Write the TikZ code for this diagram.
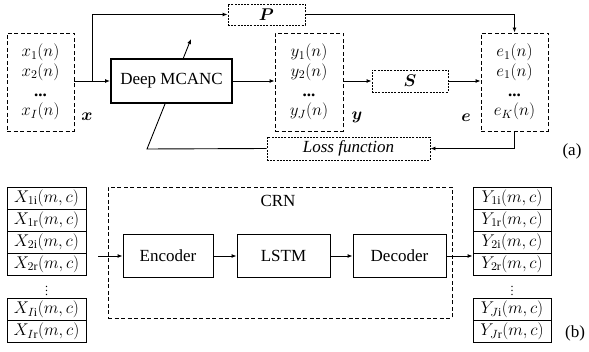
\RequirePackage{fix-cm}
\documentclass[tikz,border=0pt]{standalone}
\usepackage{amsmath,bm}
\usepackage{fontspec}
\setmainfont{Liberation Serif}
\usetikzlibrary{arrows.meta,backgrounds}
\begin{document}
\begin{tikzpicture}[x=1pt,y=-1pt,
  every node/.style={font=\fontsize{17}{19.7}\selectfont, inner sep=0pt},
  dbox/.style={draw, dash pattern=on 4pt off 2.5pt, line width=0.9pt, align=center},
  fbox/.style={draw, dash pattern=on 2pt off 1.2pt, line width=0.9pt},
  thickbox/.style={draw, line width=2pt, fill=white},
  sbox/.style={draw, line width=0.9pt},
  cell/.style={draw, line width=0.9pt, minimum width=79pt, minimum height=22pt},
  arr/.style={line width=0.9pt, -{Latex[length=5pt,width=4pt]}},
  ln/.style={line width=0.9pt}
]
\useasboundingbox (0,0) rectangle (589,352);

% ---------- (a) ----------
\node[dbox, minimum width=67pt, minimum height=98pt] (xb) at (40.5,82)
  {$x_1(n)$\\$x_2(n)$\\\textbf{...}\\$x_I(n)$};
\node[dbox, minimum width=68pt, minimum height=98pt] (yb) at (309,82)
  {$y_1(n)$\\$y_2(n)$\\\textbf{...}\\$y_J(n)$};
\node[dbox, minimum width=67pt, minimum height=98pt] (eb) at (514.5,82)
  {$e_1(n)$\\$e_1(n)$\\\textbf{...}\\$e_K(n)$};
\node[thickbox, minimum width=121pt, minimum height=44pt] (mc) at (171.5,81) {Deep MCANC};
\node[fbox, minimum width=77pt, minimum height=21pt] (pb) at (266.5,14.5) {$\bm{P}$};
\node[fbox, minimum width=76pt, minimum height=22pt] (sb) at (410,81) {$\bm{S}$};
\node[fbox, minimum width=163pt, minimum height=23pt] (lb) at (348.5,148.5) {\textit{Loss function}};

\node (xl) at (87,117) {$\bm{x}$};
\node (yl) at (357,117) {$\bm{y}$};
\node (el) at (466,118) {$\bm{e}$};
\node (la) at (572,151) {(a)};

\coordinate (br) at (92,81);
\coordinate (fb) at (147,149);
\coordinate (fbt) at (191,39);

\draw[ln] (xb.east |- mc.west) -- (br);
\draw[arr] (br) -- (mc.west);
\draw[arr] (br) |- (pb.west);
\draw[arr] (pb.east) -| (eb.north);
\draw[arr] (mc.east) -- (yb.west |- mc.east);
\draw[arr] (yb.east |- sb.west) -- (sb.west);
\draw[arr] (sb.east) -- (eb.west |- sb.east);
\draw[arr] (eb.south) |- (lb.east);
\begin{scope}[on background layer]
\draw[arr] (lb.west) -- (fb) -- (fbt);
\end{scope}

% ---------- (b) ----------
\node[draw, dash pattern=on 4pt off 2.5pt, line width=0.9pt, minimum width=344pt, minimum height=131pt] (crn) at (280,252.5) {};
\node (crnl) at (278,201) {CRN};
\node[sbox, minimum width=90pt, minimum height=43pt] (enc) at (168,256) {Encoder};
\node[sbox, minimum width=93pt, minimum height=43pt] (lstm) at (283.5,256) {LSTM};
\node[sbox, minimum width=93pt, minimum height=43pt] (dec) at (399.5,256) {Decoder};

\node[cell] (x1i) at (46.5,198) {$X_{1\mathrm{i}}(m,c)$};
\node[cell] (x1r) at (46.5,220) {$X_{1\mathrm{r}}(m,c)$};
\node[cell] (x2i) at (46.5,242) {$X_{2\mathrm{i}}(m,c)$};
\node[cell] (x2r) at (46.5,264) {$X_{2\mathrm{r}}(m,c)$};
\node[font=\fontsize{12}{14}\selectfont] (xd) at (46.5,287.5) {$\vdots$};
\node[cell] (xIi) at (46.5,309.5) {$X_{I\mathrm{i}}(m,c)$};
\node[cell] (xIr) at (46.5,331.5) {$X_{I\mathrm{r}}(m,c)$};

\node[cell, minimum width=78pt] (y1i) at (512,198) {$Y_{1\mathrm{i}}(m,c)$};
\node[cell, minimum width=78pt] (y1r) at (512,220) {$Y_{1\mathrm{r}}(m,c)$};
\node[cell, minimum width=78pt] (y2i) at (512,242) {$Y_{2\mathrm{i}}(m,c)$};
\node[cell, minimum width=78pt] (y2r) at (512,264) {$Y_{2\mathrm{r}}(m,c)$};
\node[font=\fontsize{12}{14}\selectfont] (yd) at (512,287.5) {$\vdots$};
\node[cell, minimum width=78pt] (yJi) at (512,309.5) {$Y_{J\mathrm{i}}(m,c)$};
\node[cell, minimum width=78pt] (yJr) at (512,331.5) {$Y_{J\mathrm{r}}(m,c)$};

\node (lbb) at (575,333) {(b)};

\coordinate (in) at (98,256);
\draw[arr] (in) -- (enc.west);
\draw[arr] (enc.east) -- (lstm.west);
\draw[arr] (lstm.east) -- (dec.west);
\draw[arr] (dec.east) -- (dec.east -| y2r.west);
\end{tikzpicture}
\end{document}
